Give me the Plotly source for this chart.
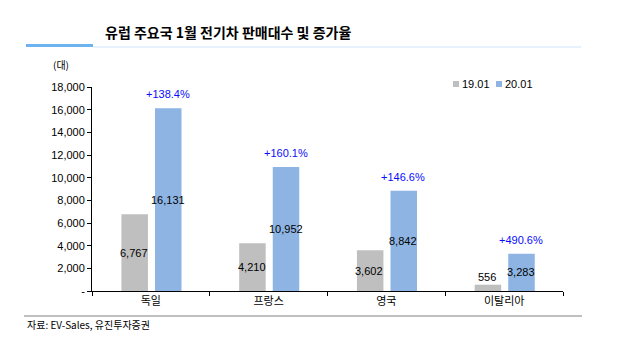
import plotly.graph_objects as go

countries = ["독일", "프랑스", "영국", "이탈리아"]
series_names = ["19.01", "20.01"]
sales_1901 = [6767, 4210, 3602, 556]
sales_2001 = [16131, 10952, 8842, 3283]
growth = ["+138.4%", "+160.1%", "+146.6%", "+490.6%"]
y_ticks = [0, 2000, 4000, 6000, 8000, 10000, 12000, 14000, 16000, 18000]
y_ticktext = ["-", "2,000", "4,000", "6,000", "8,000", "10,000", "12,000", "14,000", "16,000", "18,000"]

W, H = 618, 354
L, R, T, B = 92, 55, 87, 63
PW, PH = W - L - R, H - T - B

def px(xp):
    return (xp - L) / PW

def py(yp):
    return (H - B - yp) / PH

GRAY = "#BFBFBF"
BLUE = "#8EB4E3"
COLORS = [GRAY, BLUE]
FONT = "Liberation Sans, Arial, Noto Sans CJK KR, sans-serif"
KFONT = "Noto Sans CJK KR, sans-serif"

fig = go.Figure()
fig.add_trace(go.Bar(x=countries, y=sales_1901, name=series_names[0], marker_color=GRAY,
                     marker_line_width=0, width=0.225, offset=-0.25, showlegend=False))
fig.add_trace(go.Bar(x=countries, y=sales_2001, name=series_names[1], marker_color=BLUE,
                     marker_line_width=0, width=0.225, offset=0.035, showlegend=False))

ann = []
for c, v1, v2, g in zip(countries, sales_1901, sales_2001, growth):
    small = v1 < 1500
    ann.append(dict(x=c, y=v1 if small else v1 / 2, xref="x", yref="y", xshift=-17,
                    text=f"{v1:,}", showarrow=False, yanchor="bottom" if small else "middle",
                    yshift=0,
                    font=dict(family=FONT, size=11, color="#000000")))
    ann.append(dict(x=c, y=v2 / 2, xref="x", yref="y", xshift=17,
                    text=f"{v2:,}", showarrow=False, yanchor="middle",
                    font=dict(family=FONT, size=11, color="#000000")))
    ann.append(dict(x=c, y=v2, xref="x", yref="y", xshift=17, yshift=6,
                    text=g, showarrow=False, yanchor="bottom",
                    font=dict(family=FONT, size=11, color="#0A0AFF")))

shapes = []
# legend (manual, compact)
legend_x = [453, 496]
for name, col, lx in zip(series_names, COLORS, legend_x):
    shapes.append(dict(type="rect", xref="paper", yref="paper", x0=px(lx), x1=px(lx + 6),
                       y0=py(87), y1=py(81), fillcolor=col, line_width=0))
    ann.append(dict(x=px(lx + 7), y=py(84), xref="paper", yref="paper", xanchor="left", yanchor="middle",
                    text=name, showarrow=False,
                    font=dict(family=FONT, size=11, color="#000000")))

ann.append(dict(x=px(103), y=py(32), xref="paper", yref="paper", xanchor="left", yanchor="middle",
                text="유럽 주요국 1월 전기차 판매대수 및 증가율", showarrow=False,
                font=dict(family=KFONT, size=14, color="#000000", weight=700)))
ann.append(dict(x=px(61), y=py(65), xref="paper", yref="paper", xanchor="center", yanchor="middle",
                text="(대)", showarrow=False, font=dict(family=KFONT, size=10, color="#000000")))
ann.append(dict(x=px(25), y=py(324), xref="paper", yref="paper", xanchor="left", yanchor="middle",
                text="자료: EV-Sales, 유진투자증권", showarrow=False,
                font=dict(family=KFONT, size=10, color="#000000")))

shapes += [
    dict(type="rect", xref="paper", yref="paper", x0=px(26), x1=px(93), y0=py(47), y1=py(44),
         fillcolor="#6DB3EF", line_width=0),
    dict(type="line", xref="paper", yref="paper", x0=px(93), x1=px(581), y0=py(47), y1=py(47),
         line=dict(color="#CFE4F7", width=1)),
    dict(type="line", xref="paper", yref="paper", x0=px(24), x1=px(582), y0=py(316), y1=py(316),
         line=dict(color="#BFBFBF", width=2)),
]

fig.update_layout(
    width=W, height=H, margin=dict(l=L, r=R, t=T, b=B),
    paper_bgcolor="white", plot_bgcolor="white",
    barmode="overlay", showlegend=False,
    annotations=ann, shapes=shapes,
    font=dict(family=FONT, size=11, color="#000000"),
)
fig.update_xaxes(type="category", range=[-0.5, 3.5], showline=True, linecolor="#000000", linewidth=1,
                 ticks="outside", tickson="boundaries", ticklen=4, tickcolor="#000000",
                 showgrid=False, tickfont=dict(family=KFONT, size=11, color="#000000"))
fig.update_yaxes(range=[0, 18000], tickvals=y_ticks, ticktext=y_ticktext, showline=True,
                 linecolor="#000000", linewidth=1, ticks="outside", ticklen=4, tickcolor="#000000",
                 showgrid=False, zeroline=False, tickfont=dict(family=FONT, size=11, color="#000000"))

fig.write_html("out.html")
